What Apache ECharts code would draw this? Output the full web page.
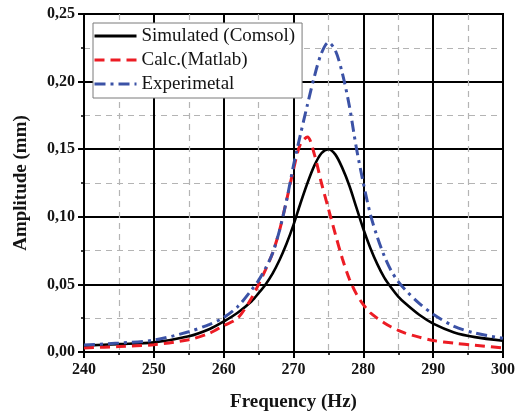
<!DOCTYPE html>
<html>
<head>
<meta charset="utf-8">
<style>
  html, body { margin: 0; padding: 0; background: #fff; }
  #chart { width: 518px; height: 417px; }
</style>
<script src="https://cdn.jsdelivr.net/npm/echarts@6/dist/echarts.min.js"></script>
</head>
<body>
<div id="chart"></div>
<script>
// Frequency sweep (Hz) shared by all three response curves
const frequency = [240, 245, 250, 255, 258, 260, 262, 264,
  265, 266, 267, 268, 269, 270, 271, 272, 273, 274, 275, 276, 277, 278,
  279, 280, 281, 282, 283, 284, 285, 286, 288, 290, 293, 296, 300];

// Amplitude (mm) for each curve
const simulatedComsol = [0.0047, 0.0058, 0.0071, 0.0116, 0.0170, 0.0225, 0.0290, 0.0375,
  0.0435, 0.0500, 0.0580, 0.0680, 0.0800, 0.0940, 0.1100, 0.1250, 0.1380, 0.1470, 0.1500, 0.1460, 0.1360, 0.1230,
  0.1070, 0.0910, 0.0770, 0.0650, 0.0550, 0.0475, 0.0410, 0.0360, 0.0275, 0.0210, 0.0145, 0.0110, 0.0083];

const calcMatlab = [0.0030, 0.0040, 0.0054, 0.0091, 0.0140, 0.0195, 0.0250, 0.0400,
  0.0500, 0.0610, 0.0730, 0.0900, 0.1120, 0.1350, 0.1540, 0.1590, 0.1460, 0.1250, 0.1060, 0.0870, 0.0690, 0.0540,
  0.0430, 0.0350, 0.0290, 0.0250, 0.0215, 0.0185, 0.0160, 0.0140, 0.0110, 0.0085, 0.0065, 0.0050, 0.0030];

const experimental = [0.0052, 0.0066, 0.0088, 0.0150, 0.0205, 0.0255, 0.0335, 0.0460,
  0.0530, 0.0620, 0.0730, 0.0900, 0.1120, 0.1380, 0.1610, 0.1830, 0.2040, 0.2210, 0.2290, 0.2230, 0.2060, 0.1820,
  0.1510, 0.1250, 0.1020, 0.0850, 0.0710, 0.0600, 0.0520, 0.0460, 0.0360, 0.0280, 0.0190, 0.0140, 0.0101];

const seriesNames = ['Simulated (Comsol)', 'Calc.(Matlab)', 'Experimetal'];

const pairs = (ys) => frequency.map((f, i) => [f, ys[i]]);

const serif = '"Liberation Serif", "DejaVu Serif", serif';
const ink = '#141414';

const chart = echarts.init(document.getElementById('chart'), null, { renderer: 'canvas' });

chart.setOption({
  animation: false,
  backgroundColor: '#ffffff',
  grid: {
    left: 84, right: 12, top: 14, bottom: 64,
    show: true, borderColor: '#000', borderWidth: 2, backgroundColor: 'transparent'
  },
  legend: {
    left: 93, top: 23,
    orient: 'vertical',
    backgroundColor: '#ffffff',
    borderColor: '#7a7a7a',
    borderWidth: 1,
    padding: [2, 7, 3, 0],
    itemWidth: 42,
    itemHeight: 14,
    itemGap: 2,
    itemStyle: { opacity: 0 },
    lineStyle: { width: 3 },
    textStyle: { fontFamily: serif, fontSize: 19, color: ink, lineHeight: 22 },
    data: seriesNames
  },
  xAxis: {
    type: 'value',
    min: 240, max: 300, interval: 10,
    name: 'Frequency (Hz)',
    nameLocation: 'middle',
    nameGap: 41,
    nameTextStyle: { fontFamily: serif, fontSize: 19, fontWeight: 'bold', color: ink },
    axisLine: { show: true, lineStyle: { color: '#000', width: 2 } },
    axisTick: { show: true, inside: false, length: 6, lineStyle: { color: '#000', width: 2 } },
    minorTick: { show: true, splitNumber: 2, length: 3, lineStyle: { color: '#000', width: 1.5 } },
    axisLabel: { fontFamily: serif, fontSize: 16, fontWeight: 'bold', color: ink, margin: 10 },
    splitLine: { show: true, lineStyle: { color: '#000', width: 2 } },
    minorSplitLine: { show: true, lineStyle: { color: '#b4b4b4', width: 1.2, type: [6, 5] } }
  },
  yAxis: {
    type: 'value',
    min: 0, max: 0.25, interval: 0.05,
    name: 'Amplitude (mm)',
    nameLocation: 'middle',
    nameGap: 53,
    nameTextStyle: { fontFamily: serif, fontSize: 19, fontWeight: 'bold', color: ink },
    axisLine: { show: true, lineStyle: { color: '#000', width: 2 } },
    axisTick: { show: true, inside: false, length: 6, lineStyle: { color: '#000', width: 2 } },
    minorTick: { show: true, splitNumber: 2, length: 3, lineStyle: { color: '#000', width: 1.5 } },
    axisLabel: {
      fontFamily: serif, fontSize: 16, fontWeight: 'bold', color: ink, margin: 9,
      formatter: (v) => v.toFixed(2).replace('.', ',')
    },
    splitLine: { show: true, lineStyle: { color: '#000', width: 2 } },
    minorSplitLine: { show: true, lineStyle: { color: '#b4b4b4', width: 1.2, type: [6, 5] } }
  },
  series: [
    {
      name: seriesNames[0],
      type: 'line',
      smooth: 0.3,
      symbol: 'none',
      data: pairs(simulatedComsol),
      lineStyle: { color: '#000000', width: 2.6, type: 'solid' },
      itemStyle: { color: '#000000' },
      z: 3
    },
    {
      name: seriesNames[1],
      type: 'line',
      smooth: 0.3,
      symbol: 'none',
      data: pairs(calcMatlab),
      lineStyle: { color: '#ec1c24', width: 3, type: [10, 6] },
      itemStyle: { color: '#ec1c24' },
      z: 4
    },
    {
      name: seriesNames[2],
      type: 'line',
      smooth: 0.3,
      symbol: 'none',
      data: pairs(experimental),
      lineStyle: { color: '#3b52a6', width: 3, type: [11, 5, 3, 5] },
      itemStyle: { color: '#3b52a6' },
      z: 5
    }
  ]
});
</script>
</body>
</html>
